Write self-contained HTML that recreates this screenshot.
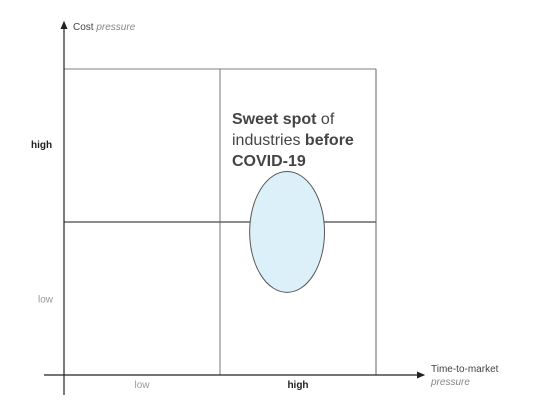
<!DOCTYPE html>
<html><head><meta charset="utf-8"><style>
body{margin:0;background:#fff;}
svg{display:block;font-family:"Liberation Sans","DejaVu Sans",sans-serif;}
</style></head><body>
<svg width="549" height="405" viewBox="0 0 549 405">
<defs><marker id="ar" markerWidth="8" markerHeight="8" refX="6" refY="4" orient="auto"><path d="M0,1 L7,4 L0,7 z" fill="#222"/></marker></defs>
<g id="grid"></g>
<line x1="64" y1="395" x2="64" y2="22" stroke="#222" stroke-width="1.2" marker-end="url(#ar)"/>
<line x1="44" y1="375" x2="424" y2="375" stroke="#222" stroke-width="1.2" marker-end="url(#ar)"/>
<text x="73" y="30" font-size="10" fill="#444">Cost <tspan font-style="italic" fill="#888">pressure</tspan></text>
<text font-size="10" fill="#444"><tspan x="431" y="372">Time-to-market</tspan><tspan x="431" y="385" font-style="italic" fill="#888">pressure</tspan></text>
<g id="ticks"></g>
<g id="marks"></g>
<text font-size="16" fill="#444"><tspan x="232" y="124" font-weight="bold">Sweet spot</tspan><tspan> of</tspan><tspan x="232" y="145">industries </tspan><tspan font-weight="bold">before</tspan><tspan x="232" y="166" font-weight="bold">COVID-19</tspan></text>
</svg>
<script>
const xCategories=["low","high"];
const yCategories=["low","high"];
const spotX=[1.43];
const spotY=[0.935];
const spotW=[0.48];
const spotH=[0.79];
const X0=64,X1=376,Y0=375,Y1=69;
const xs=v=>X0+(X1-X0)*v/2, ys=v=>Y0-(Y0-Y1)*v/2;
const NS="http://www.w3.org/2000/svg";
const g=document.getElementById('grid'),t=document.getElementById('ticks'),m=document.getElementById('marks');
function ln(p,x1,y1,x2,y2,c,w){const l=document.createElementNS(NS,'line');l.setAttribute('x1',x1);l.setAttribute('y1',y1);l.setAttribute('x2',x2);l.setAttribute('y2',y2);l.setAttribute('stroke',c);l.setAttribute('stroke-width',w);p.appendChild(l);return l;}
let l;
l=ln(g,xs(0),ys(2),xs(2),ys(2),'#999',1.2);


l=ln(g,xs(2),ys(0),xs(2),ys(2),'#666',1);


l=ln(g,xs(1),ys(0),xs(1),ys(2),'#777',1);


l=ln(g,xs(0),ys(1),xs(2),ys(1),'#666',1.6);


xCategories.forEach((c,i)=>{const e=document.createElementNS(NS,'text');e.setAttribute('x',xs(i+0.5));e.setAttribute('y',388);e.setAttribute('text-anchor','middle');e.setAttribute('font-size','10');e.setAttribute('fill',i?'#222':'#999');if(i)e.setAttribute('font-weight','bold');e.textContent=c;


t.appendChild(e);});
const yPos=[0.48,1.49];
yCategories.forEach((c,i)=>{const e=document.createElementNS(NS,'text');e.setAttribute('x',i?31:38);e.setAttribute('y',ys(yPos[i])+1);e.setAttribute('font-size','10');e.setAttribute('fill',i?'#222':'#999');if(i)e.setAttribute('font-weight','bold');e.textContent=c;


t.appendChild(e);});
spotX.forEach((v,i)=>{const e=document.createElementNS(NS,'ellipse');e.setAttribute('cx',xs(v));e.setAttribute('cy',ys(spotY[i]));e.setAttribute('rx',(xs(spotW[i])-xs(0))/2);e.setAttribute('ry',(ys(0)-ys(spotH[i]))/2);e.setAttribute('fill','#dcf0fa');e.setAttribute('stroke','#555');e.setAttribute('stroke-width','1');


m.appendChild(e);});
</script>
</body></html>
